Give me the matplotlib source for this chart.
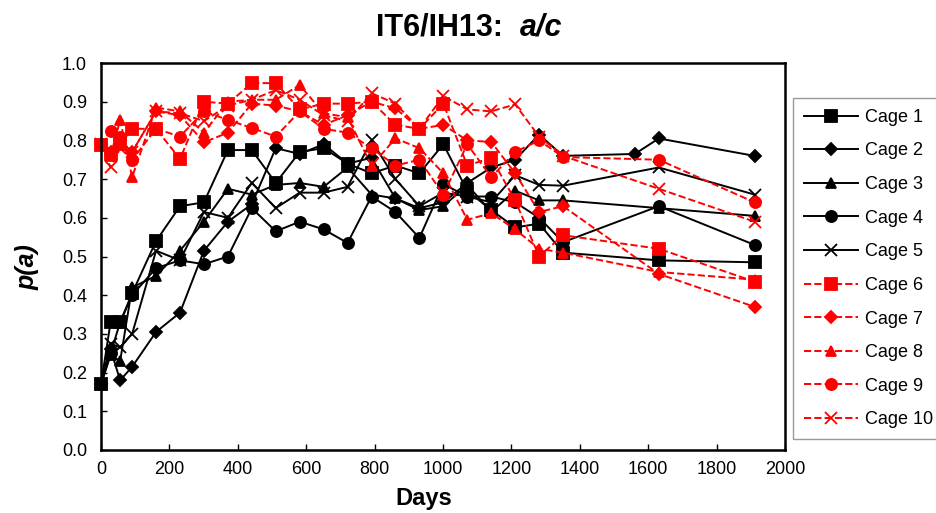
import matplotlib
matplotlib.use("Agg")
import matplotlib.pyplot as plt

plt.rcParams['font.family'] = ['Liberation Sans', 'DejaVu Sans']

days = [0, 28, 56, 91, 161, 231, 301, 371, 441, 511, 581, 651, 721, 791, 861,
        931, 1001, 1071, 1141, 1211, 1281, 1351, 1631, 1911]
days2 = [0, 28, 56, 91, 161, 231, 301, 371, 441, 511, 581, 651, 721, 791, 861,
         931, 1001, 1071, 1141, 1211, 1281, 1351, 1561, 1631, 1911]

cage1 = [0.17, 0.33, 0.33, 0.405, 0.54, 0.63, 0.64, 0.775, 0.775, 0.69, 0.77, 0.78,
         0.74, 0.715, 0.735, 0.715, 0.79, 0.67, 0.62, 0.575, 0.585, 0.51, 0.49, 0.485]
cage2 = [0.17, 0.26, 0.18, 0.215, 0.305, 0.355, 0.515, 0.59, 0.635, 0.78, 0.765, 0.79,
         0.74, 0.755, 0.65, 0.625, 0.64, 0.69, 0.73, 0.75, 0.815, 0.76, 0.765, 0.805, 0.76]
cage3 = [0.17, 0.245, 0.23, 0.42, 0.45, 0.515, 0.59, 0.675, 0.66, 0.685, 0.69, 0.68,
         0.73, 0.66, 0.65, 0.62, 0.63, 0.685, 0.615, 0.67, 0.645, 0.645, 0.625, 0.605]
cage4 = [0.17, 0.25, 0.33, 0.40, 0.47, 0.49, 0.48, 0.50, 0.625, 0.565, 0.59, 0.57,
         0.535, 0.655, 0.615, 0.548, 0.687, 0.655, 0.655, 0.64, 0.60, 0.537, 0.63, 0.53]
cage5 = [0.17, 0.275, 0.265, 0.30, 0.515, 0.49, 0.615, 0.60, 0.69, 0.625, 0.665, 0.665,
         0.68, 0.80, 0.70, 0.63, 0.665, 0.655, 0.64, 0.71, 0.685, 0.683, 0.73, 0.66]
cage6 = [0.788, 0.765, 0.79, 0.83, 0.83, 0.752, 0.90, 0.895, 0.948, 0.948, 0.88, 0.895,
         0.895, 0.90, 0.84, 0.83, 0.895, 0.735, 0.755, 0.645, 0.50, 0.555, 0.52, 0.435]
cage7 = [0.79, 0.77, 0.80, 0.77, 0.875, 0.865, 0.795, 0.82, 0.895, 0.89, 0.875, 0.84,
         0.865, 0.90, 0.883, 0.83, 0.84, 0.80, 0.796, 0.715, 0.615, 0.63, 0.455, 0.37]
cage8 = [0.79, 0.76, 0.853, 0.705, 0.885, 0.875, 0.82, 0.90, 0.905, 0.905, 0.943, 0.87,
         0.86, 0.735, 0.805, 0.78, 0.715, 0.595, 0.612, 0.57, 0.52, 0.51, 0.46, 0.44]
cage9 = [0.79, 0.825, 0.81, 0.75, 0.83, 0.81, 0.875, 0.853, 0.832, 0.81, 0.875, 0.83,
         0.82, 0.78, 0.735, 0.75, 0.66, 0.79, 0.705, 0.77, 0.80, 0.757, 0.75, 0.64]
cage10 = [0.79, 0.73, 0.78, 0.77, 0.875, 0.87, 0.85, 0.89, 0.905, 0.93, 0.905, 0.865,
          0.85, 0.922, 0.895, 0.83, 0.915, 0.88, 0.875, 0.893, 0.81, 0.76, 0.675, 0.59]

labels = ["Cage 1", "Cage 2", "Cage 3", "Cage 4", "Cage 5",
          "Cage 6", "Cage 7", "Cage 8", "Cage 9", "Cage 10"]
series = [(days, cage1), (days2, cage2), (days, cage3), (days, cage4), (days, cage5),
          (days, cage6), (days, cage7), (days, cage8), (days, cage9), (days, cage10)]
markers = ['s', 'D', '^', 'o', 'x', 's', 'D', '^', 'o', 'x']
msizes = [8, 6, 7.5, 8, 8, 8, 6, 7.5, 8, 8]

fig = plt.figure(figsize=(9.36, 5.13), dpi=100)
ax = fig.add_axes([101/936, 1-450/513, (785-101)/936, (450-63)/513])

for i, ((x, y), lab) in enumerate(zip(series, labels)):
    if i < 5:
        color, ls = 'black', '-'
    else:
        color, ls = '#ff0000', '--'
    ax.plot(x, y, linestyle=ls, color=color, marker=markers[i], markersize=msizes[i],
            markeredgecolor=color, markerfacecolor=color, linewidth=1.4,
            markeredgewidth=1.3, label=lab, clip_on=False)

ax.set_xlim(0, 2000)
ax.set_ylim(0, 1.0)
ax.set_xticks(range(0, 2001, 200))
ax.set_yticks([i/10 for i in range(11)])
ax.set_yticklabels([f"{i/10:.1f}" for i in range(11)])
ax.tick_params(direction='in', labelsize=13, length=4, width=1)
ax.tick_params(axis='x', pad=8)
ax.tick_params(axis='y', pad=10)
for s in ax.spines.values():
    s.set_linewidth(1.8)

fig.text(424/936, 1-499/513, "Days", fontsize=17, fontweight='bold', ha='center', va='center')
fig.text(28/936, 1-267/513, "p(a)", fontsize=18, fontweight='bold', fontstyle='italic',
         ha='center', va='center', rotation=90)

fig.text(520/936, 1-28/513, "IT6/IH13:  ", fontsize=22, fontweight='bold', ha='right', va='center')
fig.text(520/936, 1-28/513, "a/c", fontsize=22, fontweight='bold', fontstyle='italic', ha='left', va='center')

leg = fig.legend(loc='upper left', bbox_to_anchor=(793/936, 1-98/513), fontsize=13,
                 frameon=True, fancybox=False, edgecolor='#808080', handlelength=3.0,
                 labelspacing=0.92, borderpad=0.6, handletextpad=0.4, borderaxespad=0)
leg.get_frame().set_linewidth(1.0)

fig.savefig("out.png", dpi=100)
